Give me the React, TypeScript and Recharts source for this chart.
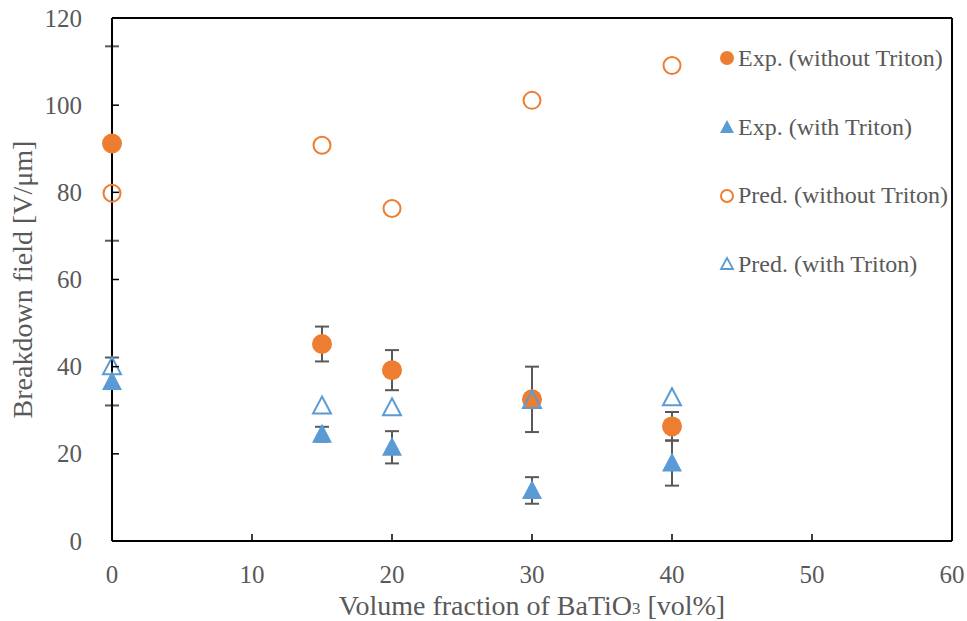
import React from 'react';
import { ScatterChart, Scatter, XAxis, YAxis, ErrorBar, ReferenceLine } from 'recharts';

const xValues = [0, 15, 20, 30, 40];
const expWithout = [91.2, 45.2, 39.2, 32.5, 26.3];
const expWithoutErr = [22.3, 4.0, 4.6, 7.5, 3.3];
const expWith = [36.6, 24.5, 21.5, 11.6, 17.9];
const expWithErr = [5.5, 1.7, 3.7, 3.05, 5.2];
const predWithout = [79.8, 90.8, 76.3, 101.1, 109.1];
const predWith = [40.0, 31.0, 30.6, 32.3, 32.9];

const xTicks = [0, 10, 20, 30, 40, 50, 60];
const yTicks = [0, 20, 40, 60, 80, 100, 120];
const seriesNames = ['Exp. (without Triton)', 'Exp. (with Triton)', 'Pred. (without Triton)', 'Pred. (with Triton)'];
const xLabelMain = 'Volume fraction of BaTiO';
const xLabelSub = '3';
const xLabelTail = ' [vol%]';
const yLabel = 'Breakdown field [V/\u03bcm]';

const ORANGE = '#ED7D31';
const BLUE = '#5B9BD5';
const GRAY = '#595959';
const FONT = '"Liberation Serif", "Times New Roman", serif';
const TICK_FS = 25;
const TITLE_FS = 28;

const mk = (vals: number[], errs?: number[]) =>
  xValues.map((x, i) => ({ x, y: vals[i], err: errs ? errs[i] : 0 }));

const dExpWithout = mk(expWithout, expWithoutErr);
const dExpWith = mk(expWith, expWithErr);
const dPredWithout = mk(predWithout);
const dPredWith = mk(predWith);

const FilledCircle = (p: any) => <circle cx={p.cx} cy={p.cy} r={10} fill={ORANGE} />;
const OpenCircle = (p: any) => <circle cx={p.cx} cy={p.cy} r={8.5} fill="none" stroke={ORANGE} strokeWidth={2} />;
const triPath = (cx: number, cy: number, w: number, h: number) =>
  `M${cx},${cy - h * 0.55} L${cx + w / 2},${cy + h * 0.45} L${cx - w / 2},${cy + h * 0.45} Z`;
const FilledTri = (p: any) => <path d={triPath(p.cx, p.cy, 20, 19)} fill={BLUE} />;
const OpenTri = (p: any) => <path d={triPath(p.cx, p.cy, 18, 17)} fill="none" stroke={BLUE} strokeWidth={2} />;

const Y_MARGIN = 30;
const X_MARGIN = 24;

const YTick = (p: any) => {
  const { x, y, payload } = p;
  return (
    <g>
      <line x1={x + Y_MARGIN} x2={x + Y_MARGIN + 7} y1={y} y2={y} stroke="#000" strokeWidth={1.5} />
      <text x={x} y={y} textAnchor="end" dominantBaseline="central" fill={GRAY} fontSize={TICK_FS} fontFamily={FONT}>
        {payload.value}
      </text>
    </g>
  );
};

const XTick = (p: any) => {
  const { x, y, payload } = p;
  return (
    <g>
      <line x1={x} x2={x} y1={y - X_MARGIN} y2={y - X_MARGIN - 7} stroke="#000" strokeWidth={1.5} />
      <text x={x} y={y + 9} textAnchor="middle" dominantBaseline="central" fill={GRAY} fontSize={TICK_FS} fontFamily={FONT}>
        {payload.value}
      </text>
    </g>
  );
};

const XTitle = (p: any) => {
  const vb = p.viewBox || {};
  const cx = vb.x + vb.width / 2;
  const cy = vb.y + 64;
  return (
    <text x={cx} y={cy} textAnchor="middle" dominantBaseline="central" fill={GRAY} fontSize={TITLE_FS} fontFamily={FONT}>
      {xLabelMain}
      <tspan fontSize={TITLE_FS * 0.6} dy={3}>{xLabelSub}</tspan>
      <tspan dy={-3}>{xLabelTail}</tspan>
    </text>
  );
};

const YTitle = (p: any) => {
  const vb = p.viewBox || {};
  const cx = 22;
  const cy = vb.y + vb.height / 2;
  return (
    <text x={cx} y={cy} transform={`rotate(-90 ${cx} ${cy})`} textAnchor="middle" dominantBaseline="central" fill={GRAY} fontSize={TITLE_FS} fontFamily={FONT}>
      {yLabel}
    </text>
  );
};

const legendIcons = [
  <circle cx={8} cy={10} r={7} fill={ORANGE} />,
  <path d="M8,3 L15,16 L1,16 Z" fill={BLUE} />,
  <circle cx={8} cy={10} r={6} fill="none" stroke={ORANGE} strokeWidth={2} />,
  <path d="M8,4 L14,15 L2,15 Z" fill="none" stroke={BLUE} strokeWidth={1.8} />,
];

const LegendBox = () => (
  <div style={{ position: 'absolute', left: 719, top: 24, width: 248, fontFamily: FONT }}>
    {seriesNames.map((n, i) => (
      <div key={n} style={{ display: 'flex', alignItems: 'center', height: 68.7 }}>
        <svg width={18} height={20} style={{ marginRight: 1, flex: 'none' }}>{legendIcons[i]}</svg>
        <span style={{ fontSize: 24, color: GRAY, whiteSpace: 'nowrap' }}>{n}</span>
      </div>
    ))}
  </div>
);

export default function App() {
  return (
    <div style={{ position: 'absolute', left: 0, top: 0, width: 967, height: 621, background: '#fff' }}>
      <ScatterChart width={967} height={621} margin={{ top: 18, right: 15, bottom: 0, left: 0 }}>
        <XAxis
          type="number"
          dataKey="x"
          domain={[0, 60]}
          ticks={xTicks}
          tickSize={0}
          tickMargin={X_MARGIN}
          tickLine={false}
          tick={<XTick />}
          height={80}
          axisLine={{ stroke: '#000', strokeWidth: 2 }}
          label={<XTitle />}
        />
        <YAxis
          type="number"
          dataKey="y"
          domain={[0, 120]}
          ticks={yTicks}
          tickSize={0}
          tickMargin={Y_MARGIN}
          tickLine={false}
          tick={<YTick />}
          width={112}
          axisLine={{ stroke: '#000', strokeWidth: 2 }}
          label={<YTitle />}
        />
        <ReferenceLine y={120} stroke="#000" strokeWidth={2} ifOverflow="visible" />
        <ReferenceLine x={60} stroke="#000" strokeWidth={2} ifOverflow="visible" />
        <Scatter name={seriesNames[0]} data={dExpWithout} shape={<FilledCircle />} isAnimationActive={false}>
          <ErrorBar dataKey="err" direction="y" width={7} stroke={GRAY} strokeWidth={2} />
        </Scatter>
        <Scatter name={seriesNames[1]} data={dExpWith} shape={<FilledTri />} isAnimationActive={false}>
          <ErrorBar dataKey="err" direction="y" width={7} stroke={GRAY} strokeWidth={2} />
        </Scatter>
        <Scatter name={seriesNames[2]} data={dPredWithout} shape={<OpenCircle />} isAnimationActive={false} />
        <Scatter name={seriesNames[3]} data={dPredWith} shape={<OpenTri />} isAnimationActive={false} />
      </ScatterChart>
      <LegendBox />
    </div>
  );
}
